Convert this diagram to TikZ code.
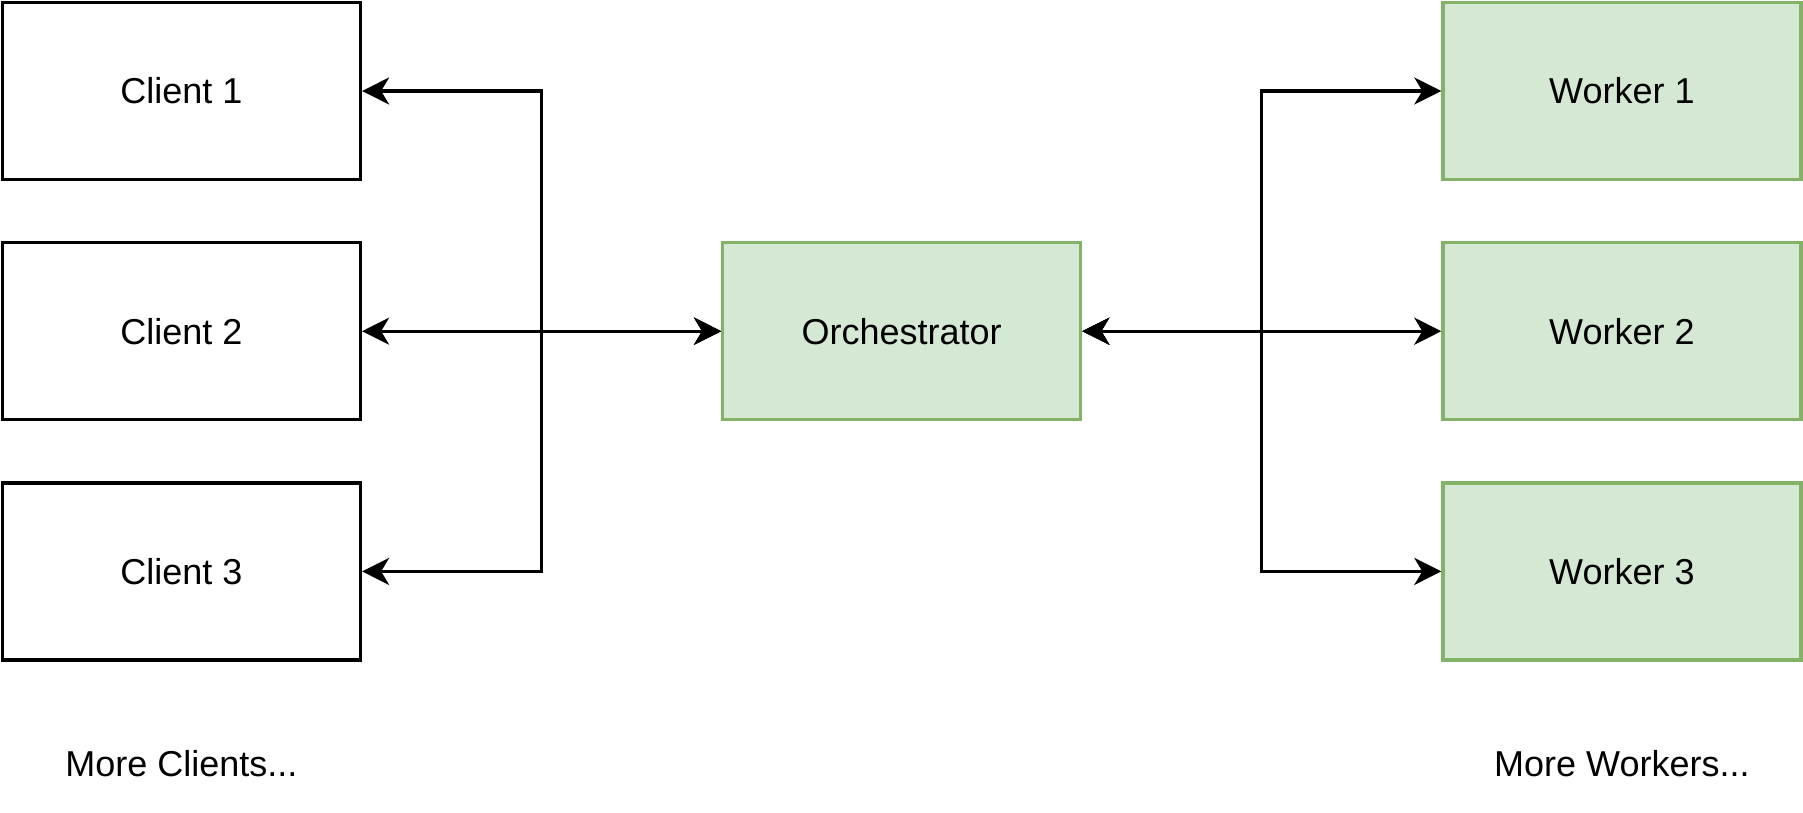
\documentclass[tikz,border=0pt]{standalone}
\usepackage{fontspec}
\setmainfont{Liberation Sans}
\usetikzlibrary{arrows.meta, positioning, calc}

\definecolor{workerfill}{HTML}{D5E8D4}
\definecolor{workerdraw}{HTML}{82B366}

\begin{document}
\begin{tikzpicture}[
    x=0.5pt, y=-0.5pt,
    node distance = 30pt and 179.5pt,
    font = \fontsize{18}{22}\selectfont,
    box/.style = {draw, rectangle, line width=1.6pt, minimum width=179pt, minimum height=88.5pt, align=center, fill=white},
    greenbox/.style = {box, draw=workerdraw, fill=workerfill},
    line/.style = {{Stealth[length=13.5pt, width=13.5pt, inset=4pt]}-{Stealth[length=13.5pt, width=13.5pt, inset=4pt]}, line width=1.6pt},
    note/.style = {inner sep=0pt}
]
    \useasboundingbox (0,0) rectangle (1803,813);

    % Nodes
    \node [box] (client1) at (181.5,91) {Client 1};
    \node [box, below=of client1] (client2) {Client 2};
    \node [box, below=of client2] (client3) {Client 3};
    \node [greenbox, right=of client2] (orch) {Orchestrator};
    \node [greenbox, right=of orch] (worker2) {Worker 2};
    \node [greenbox, above=of worker2] (worker1) {Worker 1};
    \node [greenbox, below=of worker2] (worker3) {Worker 3};

    \node [note] (moreclients) at (client3 |- 0,764) {More Clients...};
    \node [note] (moreworkers) at (worker3 |- 0,764) {More Workers...};

    % Junctions
    \coordinate (lsplit) at ($(client2.east)!0.5!(orch.west)$);
    \coordinate (rsplit) at ($(orch.east)!0.5!(worker2.west)$);

    % Edges
    \draw [line] (client1.east) -| (lsplit) -- (orch.west);
    \draw [line] (client2.east) -- (orch.west);
    \draw [line] (client3.east) -| (lsplit) -- (orch.west);
    \draw [line] (orch.east) -- (rsplit) |- (worker1.west);
    \draw [line] (orch.east) -- (worker2.west);
    \draw [line] (orch.east) -- (rsplit) |- (worker3.west);

\end{tikzpicture}
\end{document}
